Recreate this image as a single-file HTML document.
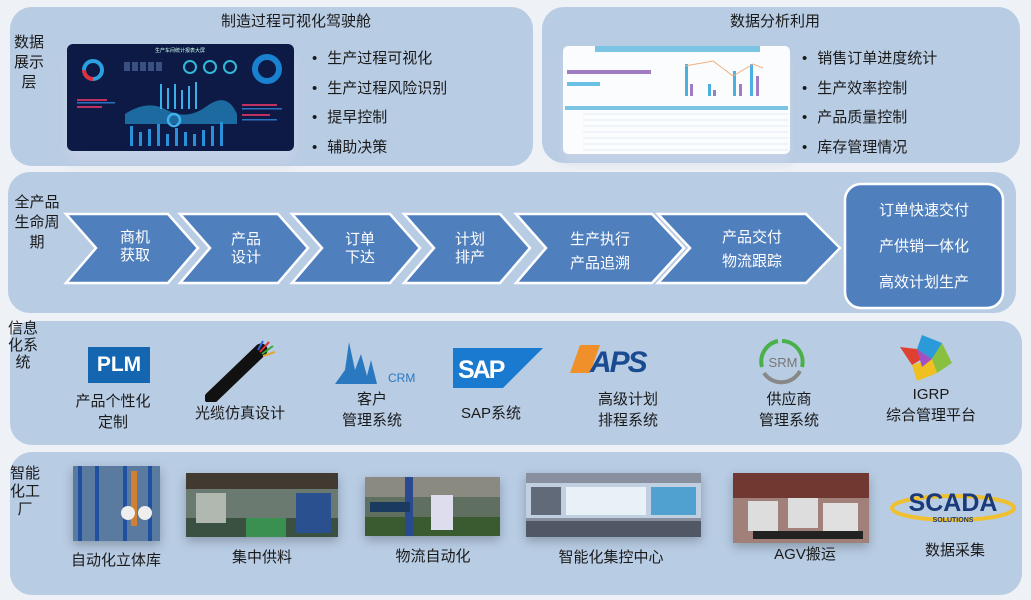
<!DOCTYPE html>
<html><head><meta charset="utf-8"><style>
*{margin:0;padding:0;box-sizing:border-box}
body{width:1031px;height:600px;background:#eef1f5;position:relative;overflow:hidden;font-family:"Liberation Sans","Noto Sans CJK SC",sans-serif;color:#1a1a1a}
.p{position:absolute;background:#b8cce4;border-radius:22px}
.t{position:absolute;white-space:nowrap;font-size:15px;line-height:18px}
.c{transform:translateX(-50%);text-align:center}
.side{position:absolute;font-size:15px;line-height:20px;text-align:center}
ul{position:absolute;list-style:none;font-size:15px;line-height:29.5px}
ul li:before{content:"•";margin-right:10px}
.img{position:absolute;box-shadow:0 4px 10px rgba(0,0,0,.25)}
</style></head><body>
<div class="p" style="left:10px;top:7px;width:523px;height:159px"></div>
<div class="p" style="left:542px;top:7px;width:478px;height:156px"></div>
<div class="p" style="left:8px;top:172px;width:1008px;height:141px"></div>
<div class="p" style="left:10px;top:321px;width:1012px;height:124px"></div>
<div class="p" style="left:10px;top:452px;width:1012px;height:143px"></div>

<div class="t c" style="left:296px;top:13px">制造过程可视化驾驶舱</div>
<div class="t c" style="left:775px;top:13px">数据分析利用</div>
<div class="side" style="left:12px;top:33px;width:34px">数据<br>展示<br>层</div>
<div class="side" style="left:12px;top:193px;width:50px">全产品<br>生命周<br>期</div>
<div class="side" style="left:8px;top:320px;width:30px;line-height:17px">信息<br>化系<br>统</div>
<div class="side" style="left:8px;top:465px;width:34px;line-height:18px">智能<br>化工<br>厂</div>

<!-- dashboard -->
<svg class="img" style="left:67px;top:44px;box-shadow:0 10px 12px rgba(200,210,230,.8)" width="227" height="107" viewBox="0 0 227 107">
<rect width="227" height="107" rx="6" fill="#0d1a45"/>
<text x="113" y="8" font-size="5" fill="#cfe" text-anchor="middle">生产车间统计报表大屏</text>
<circle cx="26" cy="26" r="9" fill="none" stroke="#2aa0e0" stroke-width="4"/>
<path d="M26 35 A9 9 0 0 1 17 26" fill="none" stroke="#e03040" stroke-width="4"/>
<circle cx="200" cy="25" r="12" fill="none" stroke="#1a80d0" stroke-width="6"/>
<g fill="#3a5080"><rect x="57" y="18" width="6" height="9"/><rect x="65" y="18" width="6" height="9"/><rect x="73" y="18" width="6" height="9"/><rect x="81" y="18" width="6" height="9"/><rect x="89" y="18" width="6" height="9"/></g>
<g fill="none" stroke="#30b8d8" stroke-width="2"><circle cx="123" cy="23" r="6"/><circle cx="143" cy="23" r="6"/><circle cx="163" cy="23" r="6"/></g>
<path d="M58 70 Q80 55 100 66 T140 62 T170 70 L170 80 L58 80Z" fill="#1c6aa0"/>
<g fill="#3ab0e8"><rect x="93" y="40" width="2" height="25"/><rect x="100" y="44" width="2" height="21"/><rect x="107" y="40" width="2" height="25"/><rect x="114" y="46" width="2" height="19"/><rect x="121" y="42" width="2" height="23"/><rect x="128" y="38" width="2" height="27"/></g>
<g fill="#2a90d8"><rect x="63" y="82" width="3" height="20"/><rect x="72" y="88" width="3" height="14"/><rect x="81" y="85" width="3" height="17"/><rect x="90" y="80" width="3" height="22"/><rect x="99" y="90" width="3" height="12"/><rect x="108" y="84" width="3" height="18"/><rect x="117" y="88" width="3" height="14"/><rect x="126" y="90" width="3" height="12"/><rect x="135" y="86" width="3" height="16"/><rect x="144" y="82" width="3" height="20"/><rect x="153" y="78" width="3" height="24"/></g>
<circle cx="107" cy="76" r="6" fill="none" stroke="#40b0f0" stroke-width="2.5"/>
<g fill="#c03060"><rect x="10" y="55" width="30" height="2"/><rect x="10" y="62" width="25" height="2"/><rect x="175" y="60" width="35" height="2"/><rect x="175" y="70" width="28" height="2"/></g>
<g fill="#3070c0"><rect x="10" y="58" width="38" height="1.5"/><rect x="175" y="64" width="40" height="1.5"/><rect x="175" y="75" width="35" height="1.5"/></g>
</svg>
<ul style="left:312px;top:44px"><li>生产过程可视化</li><li>生产过程风险识别</li><li>提早控制</li><li>辅助决策</li></ul>

<!-- analysis chart -->
<svg class="img" style="left:563px;top:46px;box-shadow:0 8px 10px rgba(200,210,230,.8)" width="227" height="108" viewBox="0 0 227 108">
<rect width="227" height="108" rx="5" fill="#fafcfd"/>
<rect x="32" y="0" width="165" height="6" fill="#7cc4e4"/>
<rect x="4" y="24" width="84" height="4" fill="#a07cc4"/><rect x="4" y="36" width="33" height="4" fill="#6cc0e4"/>
<g fill="#4ab0e0"><rect x="122" y="18" width="3" height="32"/><rect x="145" y="38" width="3" height="12"/><rect x="170" y="25" width="3" height="25"/><rect x="187" y="18" width="3" height="32"/></g>
<g fill="#a07cc4"><rect x="127" y="38" width="3" height="12"/><rect x="150" y="44" width="3" height="6"/><rect x="176" y="38" width="3" height="12"/><rect x="193" y="30" width="3" height="20"/></g>
<path d="M122 20 L150 15 L170 30 L190 18 L200 22" fill="none" stroke="#f0b080" stroke-width="1"/>
<rect x="2" y="60" width="223" height="4" fill="#7cc4e4"/>
<g stroke="#cde" stroke-width=".6"><line x1="20" y1="68" x2="225" y2="68"/><line x1="20" y1="74" x2="225" y2="74"/><line x1="20" y1="80" x2="225" y2="80"/><line x1="20" y1="86" x2="225" y2="86"/><line x1="20" y1="92" x2="225" y2="92"/><line x1="20" y1="98" x2="225" y2="98"/><line x1="20" y1="104" x2="225" y2="104"/></g>
</svg>
<ul style="left:802px;top:44px"><li>销售订单进度统计</li><li>生产效率控制</li><li>产品质量控制</li><li>库存管理情况</li></ul>

<!-- chevrons -->
<svg style="position:absolute;left:0;top:0" width="1031" height="600">
<g fill="#4f7fbd" stroke="#fff" stroke-width="2.5" stroke-linejoin="miter">
<polygon points="66,214 168,214 198,248 168,283 66,283 96,248"/>
<polygon points="180,214 278,214 308,248 278,283 180,283 210,248"/>
<polygon points="292,214 390,214 420,248 390,283 292,283 322,248"/>
<polygon points="404,214 500,214 530,248 500,283 404,283 434,248"/>
<polygon points="516,214 652,214 684,248 652,283 516,283 546,248"/>
<polygon points="658,214 806,214 840,248 806,283 658,283 690,248"/>
</g>
<rect x="845" y="184" width="158" height="124" rx="16" fill="#4f7fbd" stroke="#fff" stroke-width="2.5"/>
</svg>
<div class="t c" style="left:135px;top:229px;color:#fff;line-height:18px">商机<br>获取</div>
<div class="t c" style="left:246px;top:231px;color:#fff">产品<br>设计</div>
<div class="t c" style="left:360px;top:231px;color:#fff">订单<br>下达</div>
<div class="t c" style="left:470px;top:231px;color:#fff">计划<br>排产</div>
<div class="t c" style="left:600px;top:228px;color:#fff;line-height:24px">生产执行<br>产品追溯</div>
<div class="t c" style="left:752px;top:226px;color:#fff;line-height:24px">产品交付<br>物流跟踪</div>
<div class="t c" style="left:924px;top:193px;color:#fff;line-height:36px">订单快速交付<br>产供销一体化<br>高效计划生产</div>

<!-- info systems -->
<div style="position:absolute;left:88px;top:347px;width:62px;height:36px;background:#1466b0;color:#fff;font:bold 21px 'Liberation Sans',sans-serif;text-align:center;line-height:36px">PLM</div>
<svg style="position:absolute;left:205px;top:340px" width="72" height="62"><line x1="6" y1="58" x2="56" y2="10" stroke="#111" stroke-width="13" stroke-linecap="round"/><g stroke-width="2"><line x1="55" y1="12" x2="64" y2="2" stroke="#d33"/><line x1="57" y1="14" x2="68" y2="6" stroke="#3a3"/><line x1="53" y1="10" x2="58" y2="1" stroke="#36d"/><line x1="58" y1="16" x2="70" y2="12" stroke="#da3"/></g></svg>
<svg style="position:absolute;left:333px;top:340px" width="95" height="45"><path d="M2 44 L12 30 L16 2 L22 30 L28 14 L34 36 L38 20 L44 44Z" fill="#2a78c0"/><text x="55" y="42" font-size="12" fill="#2a78c0" font-family="Liberation Sans">CRM</text></svg>
<svg style="position:absolute;left:453px;top:348px" width="92" height="40"><polygon points="0,0 90,0 50,40 0,40" fill="#1a7ad0"/><text x="5" y="30" font-size="25" font-weight="bold" fill="#fff" font-family="Liberation Sans" letter-spacing="-2">SAP</text></svg>
<svg style="position:absolute;left:570px;top:345px" width="116" height="30"><polygon points="10,0 30,0 20,28 0,28" fill="#f0902a"/><text x="20" y="27" font-size="30" font-weight="bold" font-style="italic" fill="#1a4a90" font-family="Liberation Sans" letter-spacing="-2">APS</text></svg>
<svg style="position:absolute;left:752px;top:337px" width="66" height="48"><path d="M30 4 A21 21 0 0 1 50 30" fill="none" stroke="#4ab04a" stroke-width="4"/><path d="M48 34 A21 21 0 0 1 12 36" fill="none" stroke="#888" stroke-width="4"/><path d="M10 30 A21 21 0 0 1 26 4" fill="none" stroke="#4ab04a" stroke-width="4"/><text x="31" y="30" font-size="13" fill="#777" text-anchor="middle" font-family="Liberation Sans">SRM</text></svg>
<svg style="position:absolute;left:892px;top:333px" width="72" height="50"><polygon points="30,2 50,10 40,26 25,16" fill="#2a9ad8"/><polygon points="50,10 60,30 45,40 40,26" fill="#8ac040"/><polygon points="45,40 25,48 20,32 40,26" fill="#f0c020"/><polygon points="20,32 8,14 25,16 30,26" fill="#e04030"/><polygon points="25,16 40,26 30,34" fill="#a050c0"/></svg>
<div class="t c" style="left:113px;top:391px;line-height:21px">产品个性化<br>定制</div>
<div class="t c" style="left:240px;top:405px">光缆仿真设计</div>
<div class="t c" style="left:372px;top:389px;line-height:21px">客户<br>管理系统</div>
<div class="t c" style="left:491px;top:405px">SAP系统</div>
<div class="t c" style="left:628px;top:389px;line-height:21px">高级计划<br>排程系统</div>
<div class="t c" style="left:789px;top:389px;line-height:21px">供应商<br>管理系统</div>
<div class="t c" style="left:931px;top:384px;line-height:21px">IGRP<br>综合管理平台</div>

<!-- factory -->
<svg class="img" style="left:73px;top:466px" width="87" height="75"><rect width="87" height="75" fill="#5a7aa0"/><g fill="#2050a0"><rect x="5" y="0" width="4" height="75"/><rect x="22" y="0" width="4" height="75"/><rect x="50" y="0" width="4" height="75"/><rect x="75" y="0" width="4" height="75"/></g><rect x="58" y="5" width="6" height="55" fill="#d08030"/><circle cx="55" cy="47" r="7" fill="#eee"/><circle cx="72" cy="47" r="7" fill="#eee"/></svg>
<svg class="img" style="left:186px;top:473px" width="152" height="64"><rect width="152" height="64" fill="#6a7a70"/><rect width="152" height="16" fill="#403a30"/><rect x="0" y="45" width="152" height="19" fill="#3a5040"/><rect x="60" y="45" width="40" height="19" fill="#3a9050"/><rect x="110" y="20" width="35" height="40" fill="#2a5090"/><rect x="10" y="20" width="30" height="30" fill="#b0b8b0"/></svg>
<svg class="img" style="left:365px;top:477px" width="135" height="59"><rect width="135" height="59" fill="#607060"/><rect width="135" height="20" fill="#8a8a80"/><rect x="0" y="40" width="135" height="19" fill="#3a5a30"/><rect x="40" y="0" width="8" height="59" fill="#2a4a90"/><rect x="66" y="18" width="22" height="35" fill="#dde"/><rect x="5" y="25" width="40" height="10" fill="#1a3a60"/></svg>
<svg class="img" style="left:526px;top:473px" width="175" height="64"><rect width="175" height="64" fill="#8890a0"/><rect x="0" y="10" width="175" height="35" fill="#c0d0e0"/><rect x="40" y="14" width="80" height="28" fill="#e8f0f8"/><rect x="125" y="14" width="45" height="28" fill="#50a0d0"/><rect x="5" y="14" width="30" height="28" fill="#606a78"/><rect x="0" y="48" width="175" height="16" fill="#505866"/></svg>
<svg class="img" style="left:733px;top:473px" width="136" height="70"><rect width="136" height="70" fill="#a08078"/><rect width="136" height="25" fill="#703830"/><rect x="15" y="28" width="30" height="30" fill="#ddd"/><rect x="55" y="25" width="30" height="30" fill="#ddd"/><rect x="90" y="30" width="35" height="35" fill="#e0e0e0"/><rect x="20" y="58" width="110" height="8" fill="#222"/></svg>
<svg style="position:absolute;left:890px;top:484px" width="126" height="40"><ellipse cx="63" cy="24" rx="61" ry="12" fill="none" stroke="#f0c030" stroke-width="4"/><text x="63" y="27" font-size="25" font-weight="bold" fill="#1a3a7a" text-anchor="middle" font-family="Liberation Sans">SCADA</text><text x="63" y="38" font-size="7" font-weight="bold" fill="#1a3a7a" text-anchor="middle" font-family="Liberation Sans">SOLUTIONS</text></svg>
<div class="t c" style="left:116px;top:552px">自动化立体库</div>
<div class="t c" style="left:262px;top:549px">集中供料</div>
<div class="t c" style="left:433px;top:548px">物流自动化</div>
<div class="t c" style="left:611px;top:549px">智能化集控中心</div>
<div class="t c" style="left:805px;top:546px">AGV搬运</div>
<div class="t c" style="left:955px;top:542px">数据采集</div>
</body></html>
